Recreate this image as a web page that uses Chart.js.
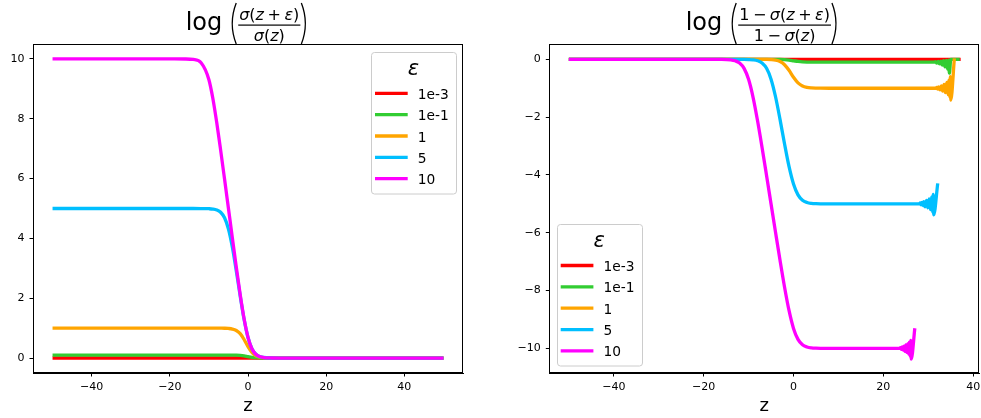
<!DOCTYPE html>
<html>
<head>
<meta charset="utf-8">
<script src="https://cdn.jsdelivr.net/npm/chart.js@4/dist/chart.umd.min.js"></script>
<style>
html, body { margin: 0; padding: 0; background: #fff; }
#wrap { position: relative; width: 981px; height: 418px; }
.box { position: absolute; top: 0; height: 418px; }
</style>
</head>
<body>
<div id="wrap">
  <div class="box" style="left:0;width:490px"><canvas id="c1"></canvas></div>
  <div class="box" style="left:490px;width:491px"><canvas id="c2"></canvas></div>
</div>
<script>
// legend entries (epsilon values) and their colours
var labels = ['1e-3', '1e-1', '1', '5', '10'];
var colors = ['#ff0000', '#32cd32', '#ffa500', '#00bfff', '#ff00ff'];

// tick labels
var leftXTicks = [-40, -20, 0, 20, 40];
var leftYTicks = [0, 2, 4, 6, 8, 10];
var rightXTicks = [-40, -20, 0, 20, 40];
var rightYTicks = [-10, -8, -6, -4, -2, 0];

// left plot: log(sigma(z+eps)/sigma(z))
var zLeft = [-50, -30, -20, -16, -14, -12, -10, -9, -8, -7, -6, -5, -4, -3, -2, -1, 0, 1, 2, 3, 4, 6, 8, 10, 20, 30, 50];
var left1e3 = [0.001, 0.001, 0.001, 0.001, 0.001, 0.001, 0.001, 0.001, 0.001, 0.001, 0.001, 0.001, 0.001, 0.001, 0.001, 0.001, 0.0005, 0.0003, 0.0001, 0, 0, 0, 0, 0, 0, 0, 0];
var left1e1 = [0.1, 0.1, 0.1, 0.1, 0.1, 0.1, 0.1, 0.1, 0.1, 0.1, 0.1, 0.099, 0.098, 0.095, 0.088, 0.073, 0.049, 0.026, 0.011, 0.005, 0.002, 0, 0, 0, 0, 0, 0];
var left1 = [1, 1, 1, 1, 1, 1, 1, 0.999, 0.999, 0.998, 0.996, 0.989, 0.970, 0.922, 0.814, 0.620, 0.380, 0.186, 0.078, 0.030, 0.011, 0.002, 0, 0, 0, 0, 0];
var left5 = [5, 5, 5, 5, 5, 4.999, 4.993, 4.982, 4.952, 4.874, 4.689, 4.314, 3.705, 2.922, 2.078, 1.295, 0.686, 0.311, 0.126, 0.048, 0.018, 0.002, 0, 0, 0, 0, 0];
var left10 = [10, 10, 10, 9.998, 9.982, 9.873, 9.307, 8.687, 7.873, 6.952, 5.984, 5.0, 4.016, 3.048, 2.127, 1.313, 0.693, 0.313, 0.127, 0.049, 0.018, 0.002, 0, 0, 0, 0, 0];

// right plot: log((1-sigma(z+eps))/(1-sigma(z))), smooth part
var zRight = [-50, -30, -20, -16, -14, -13, -12, -11, -10, -9, -8, -7, -6, -5, -4, -3, -2, -1, 0, 1, 2, 3, 4, 5, 6, 8, 10, 20];
var right1e3 = [0, 0, 0, 0, 0, 0, 0, 0, 0, 0, 0, 0, 0, 0, 0, 0, -0.0001, -0.0003, -0.0005, -0.0007, -0.0009, -0.001, -0.001, -0.001, -0.001, -0.001, -0.001, -0.001];
var right1e1 = [0, 0, 0, 0, 0, 0, 0, 0, 0, 0, 0, 0, 0, -0.001, -0.002, -0.005, -0.012, -0.027, -0.050, -0.073, -0.088, -0.095, -0.098, -0.099, -0.1, -0.1, -0.1, -0.1];
var right1 = [0, 0, 0, 0, 0, 0, 0, 0, 0, 0, -0.001, -0.002, -0.004, -0.011, -0.030, -0.078, -0.186, -0.380, -0.620, -0.814, -0.922, -0.970, -0.989, -0.996, -0.998, -1, -1, -1];
var right5 = [0, 0, 0, 0, 0, 0, 0, -0.002, -0.007, -0.018, -0.048, -0.126, -0.311, -0.686, -1.295, -2.078, -2.922, -3.705, -4.314, -4.689, -4.874, -4.952, -4.982, -4.993, -4.998, -5, -5, -5];
var right10 = [0, 0, 0, -0.002, -0.018, -0.049, -0.127, -0.313, -0.693, -1.313, -2.127, -3.048, -4.016, -5.0, -5.984, -6.952, -7.873, -8.687, -9.307, -9.687, -9.873, -9.951, -9.982, -9.993, -9.998, -10, -10, -10];

// right plot: noisy ends where 1-sigma runs out of precision
var tail1e3Z = [30, 37.2];
var tail1e3 = [-0.001, 0];
var tail1e1Z = [31.3, 31.6, 31.9, 32.2, 32.5, 32.8, 33.1, 33.4, 33.7, 34.0, 34.3, 34.5, 34.7, 35.0, 37.0];
var tail1e1 = [-0.1, -0.08, -0.13, -0.07, -0.16, -0.06, -0.2, -0.05, -0.26, -0.04, -0.34, -0.03, -0.48, 0, 0];
var tail1Z = [31.7, 31.9, 32.1, 32.3, 32.6, 32.9, 33.2, 33.5, 33.8, 34.1, 34.4, 34.6, 34.8, 34.9, 35.0, 35.8];
var tail1 = [-1.0, -0.97, -1.03, -0.95, -1.06, -0.92, -1.1, -0.87, -1.15, -0.8, -1.22, -0.72, -1.3, -0.6, -1.41, 0.03];
var tail5Z = [28.0, 28.2, 28.4, 28.6, 28.8, 29.0, 29.3, 29.6, 29.9, 30.2, 30.5, 30.8, 31.0, 31.1, 31.2, 32.1];
var tail5 = [-5.0, -4.97, -5.03, -4.95, -5.06, -4.92, -5.1, -4.88, -5.14, -4.83, -5.2, -4.76, -5.28, -4.67, -5.38, -4.29];
var tail10Z = [23.6, 23.8, 24.0, 24.2, 24.4, 24.6, 24.8, 25.0, 25.2, 25.4, 25.6, 25.8, 26.0, 26.1, 26.2, 27.0];
var tail10 = [-10.0, -9.97, -10.03, -9.95, -10.06, -9.92, -10.1, -9.88, -10.14, -9.84, -10.2, -9.78, -10.28, -9.72, -10.37, -9.3];

var FONT = '"DejaVu Sans", sans-serif';

function pts(xs, ys) {
    var out = [];
    for (var i = 0; i < xs.length; i++) out.push({ x: xs[i], y: ys[i] });
    return out;
}

function makeSets(series) {
    return series.map(function (s, i) {
        return {
            label: labels[i],
            data: s,
            borderColor: colors[i],
            backgroundColor: colors[i],
            borderWidth: 3.3,
            pointRadius: 0,
            fill: false,
            cubicInterpolationMode: 'monotone',
            order: labels.length - i
        };
    });
}

function minus(v) { return String(v).replace('-', '\u2212'); }

// draws a run of math pieces; strings are [text, italic], numbers are em spaces
function mathRun(ctx, parts, x, y, size, draw) {
    var cx = x;
    parts.forEach(function (p) {
        if (typeof p === 'number') { cx += p * size; return; }
        ctx.font = (p[1] ? 'italic ' : '') + size + 'px ' + FONT;
        if (draw) ctx.fillText(p[0], cx, y);
        cx += ctx.measureText(p[0]).width;
    });
    return cx - x;
}

function paren(ctx, x, top, bot, left) {
    var mid = (top + bot) / 2;
    ctx.beginPath();
    if (left) {
        ctx.moveTo(x + 6, top);
        ctx.quadraticCurveTo(x - 2, mid, x + 6, bot);
    } else {
        ctx.moveTo(x, top);
        ctx.quadraticCurveTo(x + 8, mid, x, bot);
    }
    ctx.stroke();
}

var decor = {
    id: 'decor',
    afterDraw: function (chart, args, opts) {
        var ctx = chart.ctx, ca = chart.chartArea;
        ctx.save();
        // axes frame
        ctx.strokeStyle = '#000';
        ctx.lineWidth = 1;
        ctx.strokeRect(Math.round(ca.left) + 0.5, Math.round(ca.top) + 0.5,
            Math.round(ca.right - ca.left) - 1, Math.round(ca.bottom - ca.top) - 1);

        // title
        ctx.fillStyle = '#000';
        ctx.textAlign = 'left';
        ctx.textBaseline = 'alphabetic';
        var logSize = 24, fs = 16;
        ctx.font = logSize + 'px ' + FONT;
        var wLog = ctx.measureText('log').width;
        var wNum = mathRun(ctx, opts.num, 0, 0, fs, false);
        var wDen = mathRun(ctx, opts.den, 0, 0, fs, false);
        var wFrac = Math.max(wNum, wDen) + 2;
        var gap = 8, pw = 8;
        var total = wLog + gap + pw + wFrac + pw;
        var x0 = (ca.left + ca.right) / 2 - total / 2 + opts.shift;
        ctx.font = logSize + 'px ' + FONT;
        ctx.fillText('log', x0, 30);
        ctx.lineWidth = 1.3;
        paren(ctx, x0 + wLog + gap, 3, 44, true);
        var fx = x0 + wLog + gap + pw;
        mathRun(ctx, opts.num, fx + (wFrac - wNum) / 2, 19.5, fs, true);
        mathRun(ctx, opts.den, fx + (wFrac - wDen) / 2, 41, fs, true);
        ctx.fillRect(fx, 24.5, wFrac, 1.2);
        paren(ctx, fx + wFrac + 1, 3, 44, false);

        // legend
        var w = 85, h = 141.5, L, T;
        if (opts.corner === 'ur') { L = ca.right - 7 - w; T = ca.top + 8; }
        else { L = ca.left + 7.4; T = ca.bottom - 7.3 - h; }
        ctx.beginPath();
        ctx.roundRect(Math.round(L) + 0.5, Math.round(T) + 0.5, w, h, 3);
        ctx.fillStyle = 'rgba(255,255,255,0.8)';
        ctx.fill();
        ctx.strokeStyle = '#cccccc';
        ctx.lineWidth = 1;
        ctx.stroke();
        ctx.fillStyle = '#000';
        ctx.textAlign = 'center';
        ctx.font = 'italic 21px ' + FONT;
        ctx.fillText('\u03b5', L + w / 2, T + 23);
        ctx.textAlign = 'left';
        ctx.font = '13.8px ' + FONT;
        chart.data.datasets.forEach(function (ds, i) {
            var y = T + 41.3 + i * 21.35;
            ctx.strokeStyle = ds.borderColor;
            ctx.lineWidth = 3.3;
            ctx.beginPath();
            ctx.moveTo(L + 4, y);
            ctx.lineTo(L + 36.7, y);
            ctx.stroke();
            ctx.fillText(ds.label, L + 46.7, y + 5.5);
        });
        ctx.restore();
    }
};

function makeOptions(xr, yr, xt, yt, yWidth, padRight, deco) {
    return {
        responsive: true,
        maintainAspectRatio: false,
        animation: false,
        devicePixelRatio: 1,
        layout: { padding: { top: 44, left: 0, right: padRight, bottom: 0 } },
        plugins: { legend: { display: false }, tooltip: { enabled: false }, decor: deco },
        scales: {
            x: {
                type: 'linear',
                min: xr[0], max: xr[1],
                afterBuildTicks: function (s) { s.ticks = xt.map(function (v) { return { value: v }; }); },
                afterFit: function (s) { s.height = 45; s.paddingLeft = 0; s.paddingRight = 0; },
                ticks: { color: '#000', font: { family: FONT, size: 11 }, padding: 4, maxRotation: 0, autoSkip: false, callback: minus },
                grid: { drawOnChartArea: false, tickLength: 3.5, tickColor: '#000', tickWidth: 1 },
                border: { color: '#000', width: 1 },
                title: { display: true, text: 'z', color: '#000', font: { family: FONT, size: 18 }, padding: { top: 0, bottom: 1 } }
            },
            y: {
                type: 'linear',
                min: yr[0], max: yr[1],
                afterBuildTicks: function (s) { s.ticks = yt.map(function (v) { return { value: v }; }); },
                afterFit: function (s) { s.width = yWidth; s.paddingTop = 0; s.paddingBottom = 0; },
                ticks: { color: '#000', font: { family: FONT, size: 11 }, padding: 5, autoSkip: false, callback: minus },
                grid: { drawOnChartArea: false, tickLength: 3.5, tickColor: '#000', tickWidth: 1 },
                border: { color: '#000', width: 1 }
            }
        }
    };
}

var leftSeries = [left1e3, left1e1, left1, left5, left10].map(function (ys) { return pts(zLeft, ys); });
var rightSeries = [
    pts(zRight, right1e3).concat(pts(tail1e3Z, tail1e3)),
    pts(zRight, right1e1).concat(pts(tail1e1Z, tail1e1)),
    pts(zRight, right1).concat(pts(tail1Z, tail1)),
    pts(zRight, right5).concat(pts(tail5Z, tail5)),
    pts(zRight, right10).concat(pts(tail10Z, tail10))
];

var numL = [['\u03c3', 1], ['(', 0], ['z', 1], 0.22, ['+', 0], 0.22, ['\u03b5', 1], [')', 0]];
var denL = [['\u03c3', 1], ['(', 0], ['z', 1], [')', 0]];
var numR = [['1', 0], 0.22, ['\u2212', 0], 0.22].concat(numL);
var denR = [['1', 0], 0.22, ['\u2212', 0], 0.22].concat(denL);

new Chart(document.getElementById('c1').getContext('2d'), {
    type: 'line',
    data: { datasets: makeSets(leftSeries) },
    options: makeOptions([-55, 55], [-0.5, 10.5], leftXTicks, leftYTicks, 33, 27,
        { corner: 'ur', num: numL, den: denL, shift: -1 }),
    plugins: [decor]
});

new Chart(document.getElementById('c2').getContext('2d'), {
    type: 'line',
    data: { datasets: makeSets(rightSeries) },
    options: makeOptions([-54.35, 41.35], [-10.85, 0.53], rightXTicks, rightYTicks, 59.3, 1.7,
        { corner: 'll', num: numR, den: denR, shift: -2 }),
    plugins: [decor]
});
</script>
</body>
</html>
